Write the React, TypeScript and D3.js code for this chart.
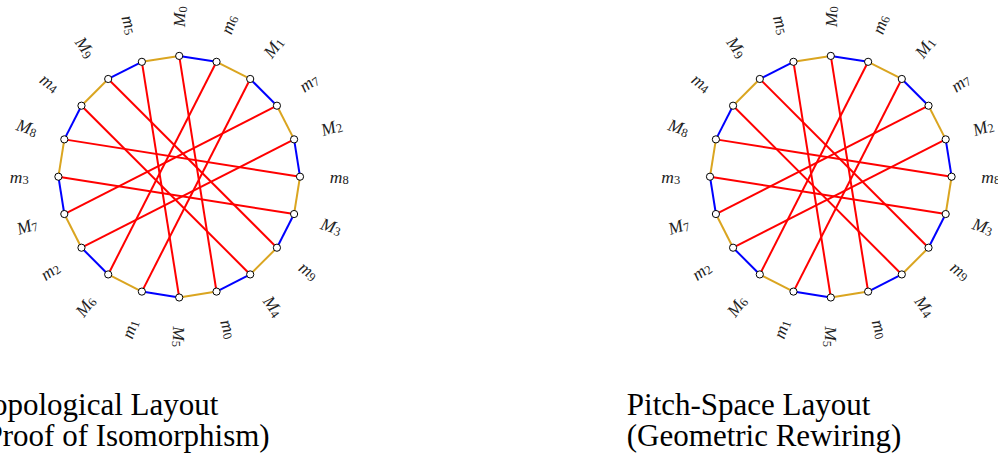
import React from "react";
import * as d3 from "d3";

// Node order clockwise from the top
const nodeLetters = ["M","m","M","m","M","m","M","m","M","m","M","m","M","m","M","m","M","m","M","m"];
const nodeDigits = ["0","6","1","7","2","8","3","9","4","0","5","1","6","2","7","3","8","4","9","5"];
// Perimeter edge colour for edge i -> i+1
const rimColors = ["blue","gold","blue","gold","blue","gold","blue","gold","blue","gold","blue","gold","blue","gold","blue","gold","blue","gold","blue","gold"];
// Chords: M_k -- m_k
const chordDigits = ["0","1","2","3","4","5","6","7","8","9"];
const panelTitles1 = ["Topological Layout", "Pitch-Space Layout"];
const panelTitles2 = ["(Proof of Isomorphism)", "(Geometric Rewiring)"];

const W = 998, H = 458;
const COLORS: Record<string, string> = { blue: "#0000ff", gold: "#daa520", red: "#ff0000" };

function Panel({ cx, cy, t1, t2 }: { cx: number; cy: number; t1: string; t2: string }) {
  const n = nodeLetters.length;
  const R = 120.8;
  const LR = 160;
  const ang = d3.scaleLinear().domain([0, n]).range([0, 2 * Math.PI]);
  const px = (i: number, r: number) => cx + r * Math.sin(ang(i));
  const py = (i: number, r: number) => cy - r * Math.cos(ang(i));
  const idxOf = (letter: string, digit: string) =>
    nodeLetters.findIndex((l, i) => l === letter && nodeDigits[i] === digit);
  const line = d3.line<number>().x((i) => px(i, R)).y((i) => py(i, R));

  return (
    <g>
      {rimColors.map((c, i) => (
        <path key={"r" + i} d={line([i, (i + 1) % n]) || ""} stroke={COLORS[c]} strokeWidth={2} fill="none" />
      ))}
      {chordDigits.map((d) => {
        const a = idxOf("M", d), b = idxOf("m", d);
        return <path key={"c" + d} d={line([a, b]) || ""} stroke={COLORS.red} strokeWidth={2} fill="none" />;
      })}
      {nodeLetters.map((_, i) => (
        <circle key={"n" + i} cx={px(i, R)} cy={py(i, R)} r={3.6} fill="#fff" stroke="#000" strokeWidth={1} />
      ))}
      {nodeLetters.map((l, i) => {
        const mathDeg = 90 - (i * 360) / n; // standard math angle
        const norm = ((mathDeg % 360) + 360) % 360;
        let rot = -mathDeg;
        if (norm > 90 && norm < 270) rot += 180;
        return (
          <g key={"l" + i} transform={`translate(${px(i, LR)},${py(i, LR)}) rotate(${rot})`}>
            <text textAnchor="middle" dominantBaseline="central" fontFamily="'Liberation Serif', serif" fill="#222">
              <tspan fontStyle="italic" fontSize={17.5}>{l}</tspan>
              <tspan fontSize={12.5} dy={3.5}>{nodeDigits[i]}</tspan>
            </text>
          </g>
        );
      })}
      <text x={cx - 204} y={415} fontFamily="'Liberation Serif', serif" fontSize={31} fill="#000">{t1}</text>
      <text x={cx - 204} y={446} fontFamily="'Liberation Serif', serif" fontSize={31} fill="#000">{t2}</text>
    </g>
  );
}

export default function App() {
  const centers = [179.2, 830.8];
  return (
    <svg width={W} height={H} style={{ position: "absolute", left: 0, top: 0, display: "block", background: "#fff" }}>
      <rect width={W} height={H} fill="#fff" />
      {centers.map((cx, k) => (
        <Panel key={k} cx={cx} cy={176.7} t1={panelTitles1[k]} t2={panelTitles2[k]} />
      ))}
    </svg>
  );
}
